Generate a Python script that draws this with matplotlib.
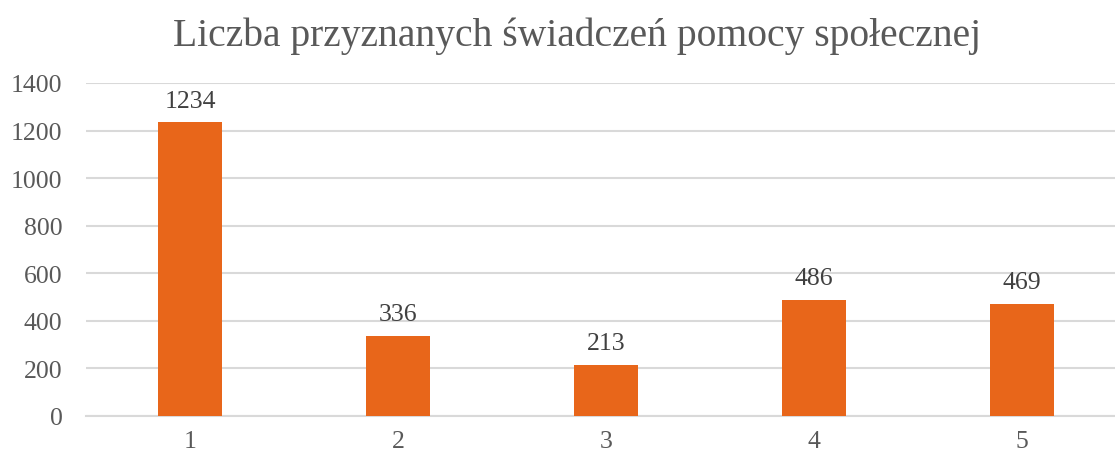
import matplotlib
matplotlib.use("Agg")
import matplotlib.pyplot as plt

categories = ["1", "2", "3", "4", "5"]
values = [1234, 336, 213, 486, 469]
yticks = [0, 200, 400, 600, 800, 1000, 1200, 1400]
title = "Liczba przyznanych świadczeń pomocy społecznej"

plt.rcParams['font.family'] = ['Liberation Serif', 'DejaVu Serif']

fig = plt.figure(figsize=(11.15, 4.56), dpi=100)
ax = fig.add_axes([86/1115, 1-417/456, (1115-86)/1115, (417-84)/456])

x = range(len(categories))
bars = ax.bar(x, values, width=0.31, color="#E8661A", zorder=3)
for xi, v in zip(x, values):
    ax.annotate(str(v), (xi, v), xytext=(0, 11.5), textcoords="offset points",
                ha="center", va="baseline", fontsize=18.5, color="#404040")

ax.set_xlim(-0.5, 4.5 - 11/208)
ax.set_ylim(0, 1400)
ax.set_yticks(yticks)
ax.set_xticks(list(x))
ax.set_xticklabels(categories)
ax.grid(axis="y", color="#D9D9D9", linewidth=1.5, zorder=0)
for s in ["top", "right", "left"]:
    ax.spines[s].set_visible(False)
ax.spines["bottom"].set_color("#D9D9D9")
ax.spines["bottom"].set_linewidth(1.5)
ax.tick_params(axis="both", length=0, labelsize=18.5, labelcolor="#595959")
ax.tick_params(axis="y", pad=17)
ax.tick_params(axis="x", pad=10)

fig.text(577.5/1115, 1-36/456, title, ha="center", va="center", fontsize=28.5, color="#595959")

fig.savefig("out.png", dpi=100)
